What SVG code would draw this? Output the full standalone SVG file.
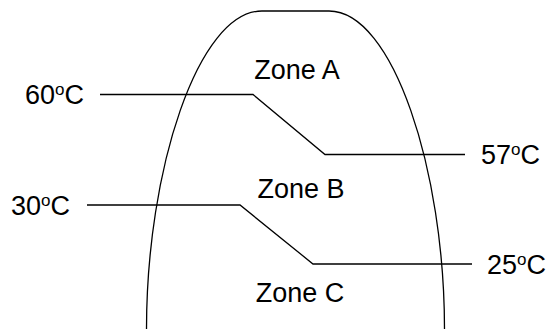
<svg xmlns="http://www.w3.org/2000/svg" width="550" height="329" viewBox="0 0 550 329">
<style>
.s{fill:none;stroke:#000;stroke-width:1.3}
text{font-family:"Liberation Sans",Arial,sans-serif;font-size:27px;fill:#000}
.z{text-anchor:middle}
.o{font-size:17px}
</style>
<rect width="550" height="329" fill="#fff"/>
<g id="dome">
<path class="s" d="M146.5,329 C146.5,170 198,11 262,11 L329,11 C393,11 444.5,170 444.5,329"/>
</g>
<g id="zoneA"><text class="z" x="297" y="79">Zone A</text></g>
<g id="zoneB"><text class="z" x="301" y="198">Zone B</text></g>
<g id="zoneC"><text class="z" x="300" y="302">Zone C</text></g>
<g id="t60"><text x="25" y="104">60<tspan class="o" dy="-9">o</tspan><tspan dy="9">C</tspan></text></g>
<g id="t57"><text x="481" y="164">57<tspan class="o" dy="-9">o</tspan><tspan dy="9">C</tspan></text></g>
<g id="t30"><text x="11" y="215">30<tspan class="o" dy="-9">o</tspan><tspan dy="9">C</tspan></text></g>
<g id="t25"><text x="487" y="274">25<tspan class="o" dy="-9">o</tspan><tspan dy="9">C</tspan></text></g>
<g id="connectors">
<path class="s" d="M100,94.5 H253 L325,154.5 H465"/>
<path class="s" d="M87,205 H240 L313,264 H472"/>
</g>
</svg>
